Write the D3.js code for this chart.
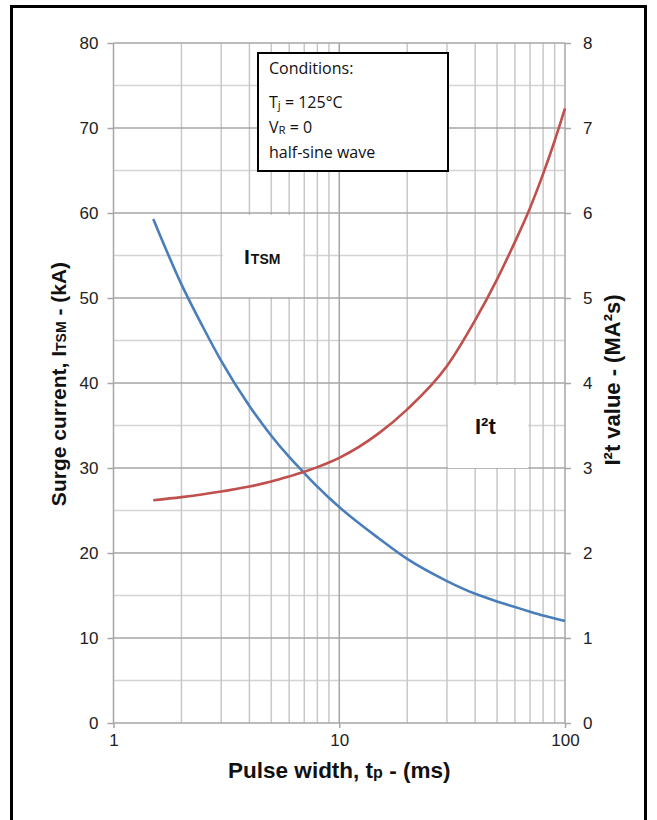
<!DOCTYPE html>
<html>
<head>
<meta charset="utf-8">
<script src="https://cdn.jsdelivr.net/npm/d3@7"></script>
<style>
  body { margin: 0; background: #fff; }
  svg { display: block; }
</style>
</head>
<body>
<div class="chart"></div>
<script>
const width = 657;
const height = 820;

// pulse width (ms)
const pulseMs = [1.5, 2, 2.5, 3, 4, 5, 6, 7, 8, 9, 10, 15, 20, 30, 40, 50, 60, 70, 80, 90, 100];
// surge current ITSM (kA), left axis
const itsmKA = [59.3, 51.6, 46.5, 42.6, 37.3, 33.8, 31.3, 29.4, 27.8, 26.5, 25.4, 21.7, 19.3, 16.7, 15.2, 14.3, 13.65, 13.1, 12.65, 12.3, 12.0];
// I2t value (MA2s), right axis
const i2tMA2s = [2.62, 2.657, 2.691, 2.723, 2.782, 2.84, 2.90, 2.955, 3.01, 3.065, 3.12, 3.41, 3.69, 4.20, 4.74, 5.22, 5.66, 6.06, 6.46, 6.85, 7.23];

const xTicks = [1, 10, 100];
const xGrid = [2, 3, 4, 5, 6, 7, 8, 9, 20, 30, 40, 50, 60, 70, 80, 90];
const leftTicks = [0, 10, 20, 30, 40, 50, 60, 70, 80];
const rightTicks = [0, 1, 2, 3, 4, 5, 6, 7, 8];
const minorY = [5, 15, 25, 35, 45, 55, 65, 75];

const conditions = [
  { main: "Conditions:", sub: "", rest: "" },
  { main: "T", sub: "j", rest: " = 125°C" },
  { main: "V", sub: "R", rest: " = 0" },
  { main: "half-sine wave", sub: "", rest: "" },
];

const plotLeft = 113.5, plotRight = 565, plotTop = 43, plotBottom = 723;

const svg = d3.select(".chart").append("svg")
  .attr("width", width)
  .attr("height", height);

svg.append("rect")
  .attr("x", 11.5).attr("y", 6.5)
  .attr("width", 634).attr("height", 830)
  .attr("fill", "#fff")
  .attr("stroke", "#000")
  .attr("stroke-width", 3);

const xScale = d3.scaleLog().domain([1, 100]).range([plotLeft, plotRight]);
const yLeft = d3.scaleLinear().domain([0, 80]).range([plotBottom, plotTop]);
const yRight = d3.scaleLinear().domain([0, 8]).range([plotBottom, plotTop]);

// grid
const grid = svg.append("g");
grid.selectAll(".minorY").data(minorY).enter().append("line")
  .attr("x1", plotLeft).attr("x2", plotRight)
  .attr("y1", d => yLeft(d)).attr("y2", d => yLeft(d))
  .attr("stroke", "#d4d4d4").attr("stroke-width", 1.5);
grid.selectAll(".vx").data(xGrid).enter().append("line")
  .attr("x1", d => xScale(d)).attr("x2", d => xScale(d))
  .attr("y1", plotTop).attr("y2", plotBottom)
  .attr("stroke", "#c8c8c8").attr("stroke-width", 1.5);
grid.selectAll(".majorY").data(leftTicks).enter().append("line")
  .attr("x1", plotLeft).attr("x2", plotRight)
  .attr("y1", d => yLeft(d)).attr("y2", d => yLeft(d))
  .attr("stroke", "#a6a6a6").attr("stroke-width", 1.5);
grid.selectAll(".decade").data(xTicks).enter().append("line")
  .attr("x1", d => xScale(d)).attr("x2", d => xScale(d))
  .attr("y1", plotTop).attr("y2", plotBottom)
  .attr("stroke", "#a6a6a6").attr("stroke-width", 1.5);

// white label backgrounds that hide the grid
svg.append("rect").attr("x", 223).attr("y", 215).attr("width", 80).attr("height", 82).attr("fill", "#fff");
svg.append("rect").attr("x", 448).attr("y", 385).attr("width", 80).attr("height", 83).attr("fill", "#fff");

// axes
function styleAxis(g) {
  g.select(".domain").remove();
  g.selectAll(".tick line").attr("stroke", "#a6a6a6").attr("stroke-width", 1.5);
  g.selectAll(".tick text")
    .attr("font-family", "Liberation Sans, Arial, sans-serif")
    .attr("font-size", 17)
    .attr("fill", "#222");
}

svg.append("g")
  .attr("transform", "translate(" + plotLeft + ",0)")
  .call(d3.axisLeft(yLeft).tickValues(leftTicks).tickSize(6).tickPadding(9))
  .call(styleAxis);

svg.append("g")
  .attr("transform", "translate(" + plotRight + ",0)")
  .call(d3.axisRight(yRight).tickValues(rightTicks).tickSize(6).tickPadding(12).tickFormat(d3.format("d")))
  .call(styleAxis);

svg.append("g")
  .attr("transform", "translate(0," + plotBottom + ")")
  .call(d3.axisBottom(xScale).tickValues(xTicks).tickSize(5).tickPadding(6).tickFormat(d3.format("d")))
  .call(styleAxis);

// curves
const itsmLine = d3.line()
  .x((d, i) => xScale(pulseMs[i]))
  .y(d => yLeft(d))
  .curve(d3.curveMonotoneX);
const i2tLine = d3.line()
  .x((d, i) => xScale(pulseMs[i]))
  .y(d => yRight(d))
  .curve(d3.curveMonotoneX);

svg.append("path").datum(itsmKA)
  .attr("d", itsmLine)
  .attr("fill", "none")
  .attr("stroke", "#4a7ebb")
  .attr("stroke-width", 2.6);
svg.append("path").datum(i2tMA2s)
  .attr("d", i2tLine)
  .attr("fill", "none")
  .attr("stroke", "#c0504d")
  .attr("stroke-width", 2.6);

// conditions box
svg.append("rect")
  .attr("x", 258).attr("y", 53)
  .attr("width", 190).attr("height", 118)
  .attr("fill", "#fff")
  .attr("stroke", "#000")
  .attr("stroke-width", 2);

const condBase = [74, 108, 133, 158];
conditions.forEach((c, i) => {
  let t = svg.append("text")
    .attr("x", 269).attr("y", condBase[i])
    .attr("font-family", "Open Sans, sans-serif")
    .attr("font-size", 16)
    .attr("fill", "#111");
  t.append("tspan").text(c.main);
  if (c.sub) t.append("tspan").attr("font-size", 11.5).attr("dy", 1).text(c.sub);
  if (c.rest) t.append("tspan").attr("dy", c.sub ? -1 : 0).text(c.rest);
});

// curve labels
const bold = "Liberation Sans, Arial, sans-serif";
let lab1 = svg.append("text")
  .attr("x", 244).attr("y", 264)
  .attr("font-family", bold).attr("font-weight", "bold")
  .attr("font-size", 21).attr("fill", "#111");
lab1.append("tspan").text("I");
lab1.append("tspan").attr("font-size", 14).attr("dx", 1).text("TSM");

svg.append("text")
  .attr("x", 475).attr("y", 434)
  .attr("font-family", bold).attr("font-weight", "bold")
  .attr("font-size", 22).attr("fill", "#111")
  .text("I²t");

// axis titles
let yTitle = svg.append("text")
  .attr("transform", "translate(66,384) rotate(-90)")
  .attr("text-anchor", "middle")
  .attr("font-family", bold).attr("font-weight", "bold")
  .attr("font-size", 21).attr("fill", "#111");
yTitle.append("tspan").text("Surge current, I");
yTitle.append("tspan").attr("font-size", 14).text("TSM");
yTitle.append("tspan").text(" - (kA)");

svg.append("text")
  .attr("transform", "translate(620,380) rotate(-90)")
  .attr("text-anchor", "middle")
  .attr("font-family", bold).attr("font-weight", "bold")
  .attr("font-size", 22).attr("fill", "#111")
  .text("I²t value - (MA²s)");

let xTitle = svg.append("text")
  .attr("x", (plotLeft + plotRight) / 2).attr("y", 778)
  .attr("text-anchor", "middle")
  .attr("font-family", bold).attr("font-weight", "bold")
  .attr("font-size", 22.5).attr("fill", "#111");
xTitle.append("tspan").text("Pulse width, t");
xTitle.append("tspan").attr("font-size", 16).text("p");
xTitle.append("tspan").text(" - (ms)");
</script>
</body>
</html>
